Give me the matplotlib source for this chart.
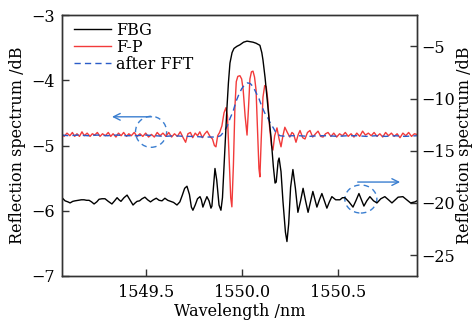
import matplotlib
matplotlib.use("Agg")
import matplotlib.pyplot as plt
from matplotlib.patches import Ellipse

# ---------------- data ----------------
fbg_wl = [1549.064, 1549.080, 1549.095, 1549.106, 1549.120, 1549.132, 1549.150, 1549.165,
          1549.179, 1549.192, 1549.205, 1549.218, 1549.231, 1549.245, 1549.257, 1549.272,
          1549.288, 1549.305, 1549.324, 1549.338, 1549.351, 1549.361, 1549.371, 1549.387,
          1549.403, 1549.418, 1549.434, 1549.445, 1549.455, 1549.468, 1549.481, 1549.496,
          1549.510, 1549.525, 1549.540, 1549.555, 1549.570, 1549.585, 1549.600, 1549.615,
          1549.630, 1549.645, 1549.663, 1549.678, 1549.690, 1549.703, 1549.715, 1549.728,
          1549.738, 1549.746, 1549.758, 1549.770, 1549.783, 1549.790, 1549.798, 1549.808,
          1549.819, 1549.830, 1549.840, 1549.845, 1549.853, 1549.861, 1549.870, 1549.882,
          1549.892, 1549.900, 1549.912, 1549.923, 1549.931, 1549.939, 1549.950, 1549.960,
          1549.975, 1549.991, 1550.010, 1550.028, 1550.045, 1550.059, 1550.075, 1550.095,
          1550.105, 1550.111, 1550.122, 1550.132, 1550.143, 1550.153, 1550.165, 1550.174,
          1550.180, 1550.190, 1550.195, 1550.205, 1550.215, 1550.228, 1550.236, 1550.245,
          1550.255, 1550.267, 1550.280, 1550.293, 1550.307, 1550.320, 1550.333, 1550.346,
          1550.360, 1550.371, 1550.382, 1550.392, 1550.405, 1550.418, 1550.431, 1550.444,
          1550.457, 1550.470, 1550.490, 1550.512, 1550.525, 1550.538, 1550.559, 1550.580,
          1550.595, 1550.611, 1550.624, 1550.637, 1550.652, 1550.668, 1550.687, 1550.705,
          1550.725, 1550.746, 1550.765, 1550.783, 1550.800, 1550.815, 1550.840, 1550.860,
          1550.880, 1550.903, 1550.913]
fbg_db = [-19.5, -19.8, -19.9, -20.0, -19.85, -19.8, -19.75, -19.7,
          -19.7, -19.75, -19.75, -19.9, -20.1, -19.9, -19.65, -19.6,
          -19.6, -19.85, -20.1, -19.8, -19.5, -19.7, -19.85, -19.5,
          -19.25, -19.7, -20.2, -20.0, -19.85, -19.8, -19.6, -19.45,
          -19.7, -19.9, -19.7, -19.55, -19.75, -19.8, -19.55, -19.75,
          -19.85, -19.95, -20.2, -19.9, -19.3, -18.6, -18.4, -19.2,
          -20.4, -20.7, -20.2, -19.6, -19.4, -19.7, -20.4, -19.9,
          -19.4, -19.8, -20.5, -20.3, -18.5, -16.7, -17.8, -20.2,
          -20.7, -19.5, -15.0, -11.0, -8.5, -6.6, -5.6, -5.2,
          -5.0, -4.85, -4.6, -4.5, -4.55, -4.6, -4.7, -4.9,
          -5.6, -6.3, -8.0, -9.9, -12.0, -13.7, -16.5, -18.1,
          -18.0, -16.0, -15.7, -17.0, -19.8, -22.8, -23.7, -22.0,
          -18.5, -16.8, -18.6, -20.9, -19.8, -18.6, -19.8, -20.9,
          -19.8, -18.9, -19.7, -20.4, -19.7, -19.1, -19.8, -20.5,
          -19.9, -19.4, -19.7, -19.7, -19.5, -19.5, -19.9, -20.4,
          -19.8, -19.1, -19.7, -20.3, -19.8, -19.4, -19.8, -20.0,
          -19.6, -19.4, -19.7, -20.0, -19.7, -19.45, -19.4, -19.7,
          -20.0, -19.9, -19.8]

fp_wl = [1549.064, 1549.075, 1549.090, 1549.105, 1549.118, 1549.130, 1549.142, 1549.155,
         1549.168, 1549.180, 1549.195, 1549.210, 1549.222, 1549.235, 1549.248, 1549.262,
         1549.275, 1549.290, 1549.305, 1549.318, 1549.330, 1549.345, 1549.358, 1549.372,
         1549.385, 1549.400, 1549.412, 1549.425, 1549.440, 1549.455, 1549.470, 1549.485,
         1549.500, 1549.515, 1549.530, 1549.545, 1549.560, 1549.575, 1549.590, 1549.605,
         1549.620, 1549.635, 1549.650, 1549.665, 1549.680, 1549.695, 1549.708, 1549.720,
         1549.733, 1549.745, 1549.758, 1549.770, 1549.782, 1549.795, 1549.808, 1549.820,
         1549.835, 1549.848, 1549.858, 1549.866, 1549.875, 1549.885, 1549.897, 1549.908,
         1549.918, 1549.926, 1549.935, 1549.943, 1549.949, 1549.957, 1549.965, 1549.972,
         1549.980, 1549.991, 1550.000, 1550.008, 1550.018, 1550.028, 1550.036, 1550.043,
         1550.051, 1550.059, 1550.067, 1550.075, 1550.083, 1550.090, 1550.095, 1550.102,
         1550.111, 1550.120, 1550.128, 1550.136, 1550.145, 1550.155, 1550.163, 1550.172,
         1550.184, 1550.195, 1550.205, 1550.215, 1550.225, 1550.238, 1550.251, 1550.262,
         1550.270, 1550.283, 1550.295, 1550.304, 1550.318, 1550.330, 1550.343, 1550.356,
         1550.370, 1550.385, 1550.398, 1550.412, 1550.424, 1550.437, 1550.450, 1550.465,
         1550.480, 1550.495, 1550.510, 1550.525, 1550.540, 1550.555, 1550.570, 1550.585,
         1550.600, 1550.615, 1550.630, 1550.645, 1550.660, 1550.675, 1550.690, 1550.705,
         1550.720, 1550.735, 1550.750, 1550.765, 1550.780, 1550.795, 1550.810, 1550.825,
         1550.840, 1550.855, 1550.870, 1550.885, 1550.900, 1550.913]
fp_db = [-4.83, -4.86, -4.81, -4.85, -4.80, -4.86, -4.82, -4.86,
         -4.79, -4.85, -4.81, -4.86, -4.82, -4.84, -4.80, -4.86,
         -4.82, -4.85, -4.80, -4.86, -4.82, -4.87, -4.81, -4.85,
         -4.80, -4.86, -4.82, -4.85, -4.80, -4.86, -4.82, -4.86,
         -4.81, -4.87, -4.83, -4.87, -4.80, -4.85, -4.81, -4.86,
         -4.80, -4.87, -4.82, -4.86, -4.79, -4.88, -4.95, -4.82,
         -4.80, -4.88, -4.81, -4.85, -4.79, -4.88, -4.82, -4.78,
         -4.86, -4.90, -5.00, -5.02, -4.85, -4.80, -4.70, -4.50,
         -4.42, -4.55, -5.20, -5.80, -5.94, -5.30, -4.40, -4.02,
         -3.94, -3.93, -3.98, -4.15, -4.55, -4.84, -4.40, -3.98,
         -3.87, -3.86, -3.95, -4.15, -4.80, -5.35, -5.48, -4.90,
         -4.26, -4.08, -4.10, -4.30, -4.70, -5.00, -5.07, -4.85,
         -4.73, -4.90, -5.02, -4.85, -4.72, -4.80, -4.87, -4.80,
         -4.82, -4.95, -4.83, -4.77, -4.88, -4.90, -4.80, -4.77,
         -4.87, -4.82, -4.78, -4.86, -4.87, -4.82, -4.80, -4.86,
         -4.81, -4.87, -4.82, -4.85, -4.80, -4.86, -4.82, -4.87,
         -4.81, -4.86, -4.78, -4.84, -4.81, -4.85, -4.80, -4.86,
         -4.82, -4.87, -4.80, -4.85, -4.81, -4.86, -4.82, -4.88,
         -4.81, -4.85, -4.80, -4.86, -4.82, -4.83]

fft_wl = [1549.064, 1549.100, 1549.150, 1549.200, 1549.250, 1549.300, 1549.350, 1549.400,
          1549.450, 1549.500, 1549.550, 1549.600, 1549.650, 1549.700, 1549.750, 1549.800,
          1549.840, 1549.870, 1549.890, 1549.910, 1549.925, 1549.940, 1549.955, 1549.970,
          1549.985, 1550.000, 1550.015, 1550.030, 1550.045, 1550.060, 1550.075, 1550.090,
          1550.105, 1550.120, 1550.135, 1550.150, 1550.165, 1550.180, 1550.200, 1550.230,
          1550.260, 1550.300, 1550.350, 1550.400, 1550.450, 1550.500, 1550.550, 1550.600,
          1550.650, 1550.700, 1550.750, 1550.800, 1550.850, 1550.913]
fft_db = [-4.84, -4.85, -4.84, -4.85, -4.84, -4.85, -4.84, -4.85,
          -4.85, -4.84, -4.85, -4.86, -4.85, -4.86, -4.86, -4.87,
          -4.87, -4.87, -4.85, -4.78, -4.70, -4.58, -4.48, -4.33,
          -4.22, -4.13, -4.07, -4.04, -4.05, -4.10, -4.19, -4.28,
          -4.40, -4.50, -4.57, -4.66, -4.73, -4.81, -4.85, -4.86,
          -4.85, -4.85, -4.86, -4.85, -4.85, -4.86, -4.85, -4.85,
          -4.86, -4.85, -4.86, -4.85, -4.86, -4.85]

x_ticks = [1549.5, 1550.0, 1550.5]
left_ticks = [-7, -6, -5, -4, -3]
right_ticks = [-25, -20, -15, -10, -5]
series_labels = ["FBG", "F-P", "after FFT"]

# ---------------- figure ----------------
plt.rcParams['font.family'] = ['DejaVu Serif']
plt.rcParams['mathtext.fontset'] = 'dejavuserif'
FS = 11.5

fig = plt.figure(figsize=(4.77, 3.27), dpi=100)
ax = fig.add_axes([0.130, 0.156, 0.744, 0.798])
ax2 = ax.twinx()

l_fp, = ax.plot(fp_wl, fp_db, color='#f23a3a', lw=1.0, label=series_labels[1])
l_fft, = ax.plot(fft_wl, fft_db, color='#2a5cc8', lw=1.0, ls=(0, (4.5, 3)), label=series_labels[2])
l_fbg, = ax2.plot(fbg_wl, fbg_db, color='black', lw=1.0, label=series_labels[0])

ax.set_xlim(1549.064, 1550.913)
ax.set_ylim(-7, -3)
ax2.set_ylim(-27, -2)

ax.set_xticks(x_ticks)
ax.set_xticklabels([f"{v:.1f}" for v in x_ticks])
ax.set_yticks(left_ticks)
ax2.set_yticks(right_ticks)

for a in (ax, ax2):
    for s in a.spines.values():
        s.set_color('#333333')
        s.set_linewidth(1.0)
ax.tick_params(axis='both', direction='in', length=5, width=1, color='#333333',
               labelsize=FS, right=False, top=False, pad=5)
ax.tick_params(axis='x', pad=6)
ax2.tick_params(axis='y', direction='in', length=5, width=1, color='#333333',
                labelsize=FS, pad=3)

ax.set_xlabel("Wavelength /nm", fontsize=FS, labelpad=1)
ax.set_ylabel("Reflection spectrum /dB", fontsize=FS, labelpad=4)
ax2.set_ylabel("Reflection spectrum /dB", fontsize=FS, labelpad=1)

leg = ax2.legend([l_fbg, l_fp, l_fft], series_labels, loc='upper left',
                 bbox_to_anchor=(0.035, 0.975), frameon=False, fontsize=FS,
                 handlelength=2.3, handletextpad=0.3, labelspacing=0.0,
                 borderpad=0.0, borderaxespad=0.0)

# annotations: arrows and dashed circles
acol = '#3a7ed0'
ax.annotate("", xy=(1549.31, -4.56), xytext=(1549.545, -4.56),
            arrowprops=dict(arrowstyle='->', color=acol, lw=1.0, mutation_scale=12))
ax.add_patch(Ellipse((1549.528, -4.79), 0.162, 0.475, fill=False, ls=(0, (4, 3)),
                     ec=acol, lw=1.0))
ax.annotate("", xy=(1550.84, -5.56), xytext=(1550.59, -5.56),
            arrowprops=dict(arrowstyle='->', color=acol, lw=1.0, mutation_scale=12))
ax.add_patch(Ellipse((1550.621, -5.82), 0.167, 0.43, fill=False, ls=(0, (4, 3)),
                     ec=acol, lw=1.0))

fig.savefig("out.png", dpi=100)
